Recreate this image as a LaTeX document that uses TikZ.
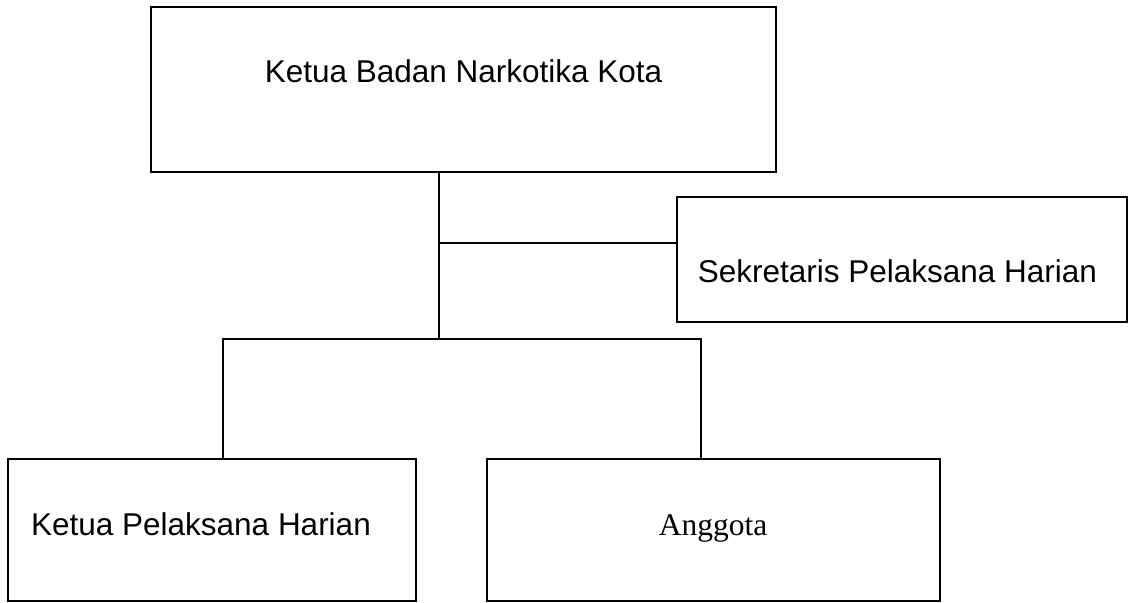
\documentclass[tikz,border=0pt]{standalone}
\usepackage{fontspec}
\setmainfont{Liberation Sans}
\newfontfamily\serifhuruf{Liberation Serif}
\usepackage{tikz}
\usetikzlibrary{positioning, calc}

\begin{document}
\begin{tikzpicture}[x=0.025cm, y=-0.025cm,
	kotak/.style={draw, line width=1.2pt, inner sep=0pt},
	tulisan/.style={anchor=base, inner sep=0pt, font=\fontsize{22.4}{26}\selectfont}]
			\useasboundingbox (0,0) rectangle (1132,603);
			
			\node[kotak, minimum width=15.625cm, minimum height=4.125cm] (ketua) at (463.5,89.5) {};
			\node[kotak, minimum width=11.25cm, minimum height=3.125cm] (sekretaris) at (902,259.5) {};
			\node[kotak, minimum width=10.2cm, minimum height=3.55cm] (kph) at (212,530) {};
			\node[kotak, minimum width=11.325cm, minimum height=3.55cm] (anggota) at (713.5,530) {};
			
			\node[tulisan] (ketua-t) at (463.5,83) {Ketua Badan Narkotika Kota};
			\node[tulisan] (sekretaris-t) at (897.5,283) {Sekretaris Pelaksana Harian};
			\node[tulisan] (kph-t) at (201,535) {Ketua Pelaksana Harian};
			\node[tulisan, font=\fontsize{22.4}{26}\serifhuruf] (anggota-t) at (713,535) {Anggota};
			
			\coordinate (cabang) at (439,243);
			\coordinate (bagi) at (439,339);
			\coordinate (kiri) at (223,339);
			\coordinate (kanan) at (701,339);
			
			\draw[line width=1.2pt] (ketua.south -| bagi) -- (bagi);
			\draw[line width=1.2pt] (cabang) -- (cabang -| sekretaris.west);
			\draw[line width=1.2pt] (kiri |- kph.north) -- (kiri) -- (kanan) -- (kanan |- anggota.north);
\end{tikzpicture}
\end{document}
